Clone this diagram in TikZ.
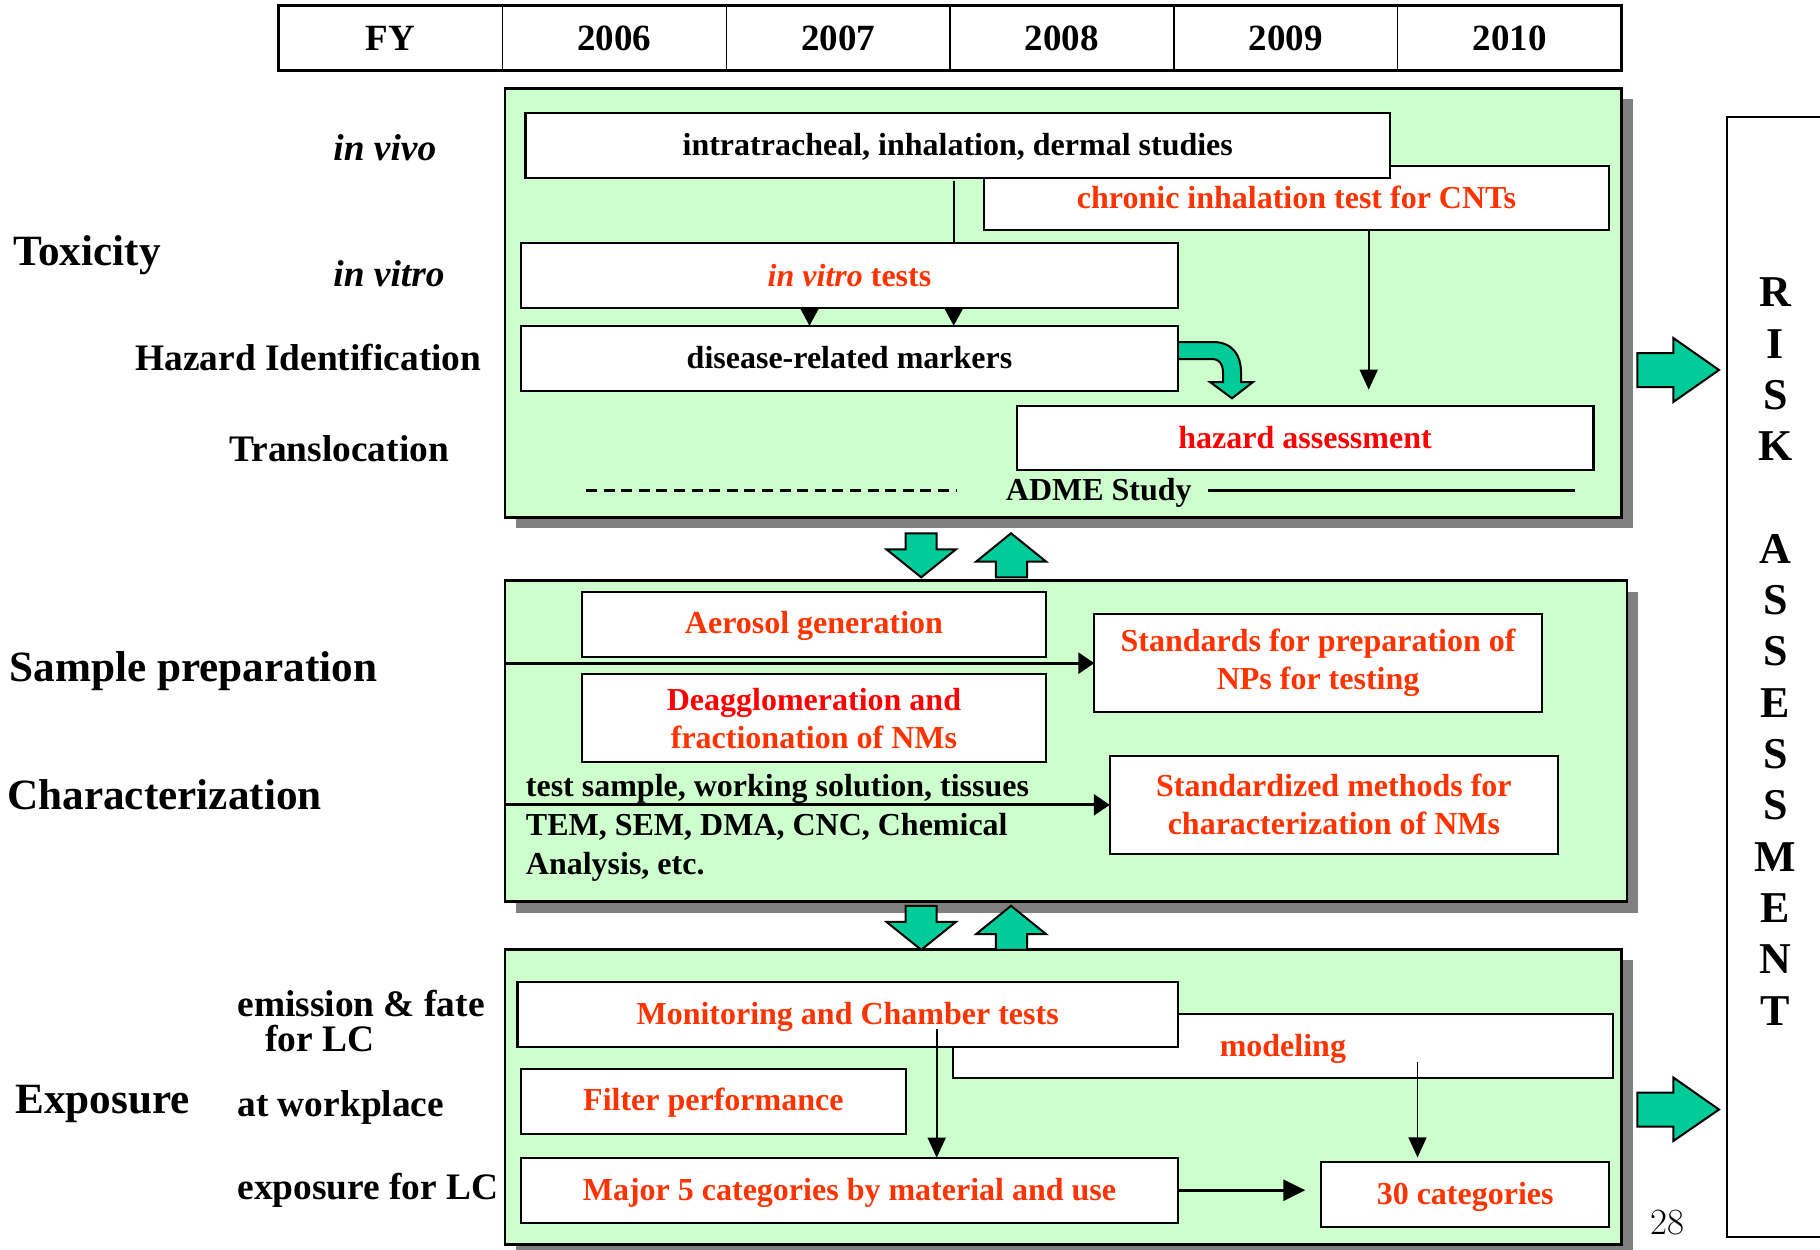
\documentclass[tikz,border=0pt]{standalone}
\usepackage{fontspec}
\newfontfamily\tnr{Liberation Serif}
\usetikzlibrary{arrows.meta,calc}
\definecolor{lgreen}{RGB}{204,255,204}
\definecolor{agreen}{RGB}{0,204,153}
\definecolor{shad}{RGB}{128,128,128}
\definecolor{ored}{RGB}{255,51,0}
\definecolor{pred}{RGB}{255,0,0}
\newcommand\mybox[7][]{\node[wbox,#1,minimum width={(#5-#3)*0.5pt},minimum height={(#6-#4)*0.5pt}] (#2) at ({(#3+#5)/2},{(#4+#6)/2}) {#7};}
\newcommand\gbx[5]{\fill[shad] ({#2+11},{#3+11}) rectangle ({#4+11},{#5+11});
  \node[gbox,minimum width={(#4-#2)*0.5pt},minimum height={(#5-#3)*0.5pt}] (#1) at ({(#2+#4)/2},{(#3+#5)/2}) {};}
\begin{document}
\begin{tikzpicture}[x=0.5pt,y=-0.5pt,
  wbox/.style={draw=black, fill=white, line width=1.1pt, inner sep=0pt, outer sep=0pt, font=\tnr\bfseries\fontsize{16}{19}\selectfont, text=ored, align=center},
  one/.style={text height=13pt, text depth=2.4pt},
  gbox/.style={draw=black, fill=lgreen, line width=1.3pt, inner sep=0pt, outer sep=0pt},
  cell/.style={draw=black, line width=0.7pt, inner sep=0pt, outer sep=0pt, font=\tnr\bfseries\fontsize{18.5}{20}\selectfont, minimum width=111.9pt, minimum height=32.5pt, text height=13pt, text depth=0pt},
  biglab/.style={font=\tnr\bfseries\fontsize{21.6}{24}\selectfont, inner sep=0pt, anchor=base west},
  midlab/.style={font=\tnr\bfseries\fontsize{18.7}{21}\selectfont, inner sep=0pt, anchor=base west},
  plain/.style={font=\tnr\bfseries\fontsize{16}{18.5}\selectfont, inner sep=0pt, anchor=base west},
  thinarr/.style={line width=0.8pt, -{Triangle[length=10pt,width=9pt]}},
  smallarr/.style={line width=0.8pt, -{Triangle[length=8.5pt,width=9pt]}},
  thickarr/.style={line width=1.4pt, -{Triangle[length=8pt,width=10.5pt]}},
  longarr/.style={line width=1.4pt, -{Triangle[length=11pt,width=10.5pt]}},
  blockarr/.style={draw=black, fill=agreen, line width=1pt, line join=miter},
  letter/.style={font=\tnr\bfseries\fontsize{22}{24}\selectfont, inner sep=0pt}
]
\useasboundingbox (0,0) rectangle (1820,1249);
\fill[white] (0,0) rectangle (1820,1249);

% year table
\foreach \t [count=\i from 0] in {FY,2006,2007,2008,2009,2010}
  \node[cell] (yr\i) at ({278.6+111.9+\i*223.8},37.5) {\t};
\draw[line width=1.5pt] (yr0.north west) rectangle (yr5.south east);

% green panels with shadows
\gbx{tox}{504.8}{88.3}{1621.7}{517.3}
\gbx{samp}{504.8}{580.7}{1626.8}{901.7}
\gbx{expo}{504.8}{949.3}{1621.7}{1244.3}

% ---- toxicity panel
\mybox[one]{ch}{984}{165.7}{1609}{230}{chronic inhalation test for CNTs}
\mybox[one,text=black]{in1}{525.5}{112.7}{1390}{177.7}{intratracheal, inhalation, dermal studies}
\mybox[one]{iv}{521}{243.3}{1178}{308.3}{\textit{in vitro} tests}
\draw[blockarr] (1170,342) -- (1213,342) .. controls (1233,342) and (1241,356) .. (1241,372) -- (1241,382)
  -- (1253,382) -- (1232,398.3) -- (1210,382) -- (1223,382) -- (1223,373)
  .. controls (1223,364) and (1219,359) .. (1213,359) -- (1170,359) -- cycle;
\mybox[one,text=black]{dr}{521}{325.7}{1178}{390.7}{disease-related markers}
\mybox[one,text=pred]{ha}{1016.6}{405.7}{1593.5}{470}{hazard assessment}

\coordinate (xa) at (809.5,0);
\coordinate (xb) at (953.7,0);
\coordinate (xc) at (1368.7,0);
\draw[line width=0.8pt] ([yshift=-1.5pt]in1.south -| xb) -- (iv.north -| xb);
\draw[smallarr] (iv.south -| xa) -- (dr.north -| xa);
\draw[smallarr] (iv.south -| xb) -- (dr.north -| xb);
\draw[thinarr, shorten >=8pt] (ch.south -| xc) -- (ha.north -| xc);

\coordinate (ad1) at (586,490);
\coordinate (ad2) at (956,490);
\coordinate (ad3) at (1207.5,490);
\coordinate (ad4) at (1575,490);
\draw[line width=1.5pt, dash pattern=on 5.5pt off 3.3pt] (ad1) -- (ad2);
\node[plain] (adme) at (1005.5,500.5) {ADME Study};
\draw[line width=1.5pt] (ad3) -- (ad4);

% ---- sample panel
\mybox[one,text depth=4.5pt]{ae}{581.7}{592.3}{1046.2}{657.3}{Aerosol generation}
\mybox{st}{1094.3}{614}{1541.8}{712.3}{Standards for preparation of\\NPs for testing}
\mybox{de}{581.7}{674}{1046.2}{762.3}{\textcolor{pred}{Deagglomeration and}\\fractionation of NMs}
\mybox{sm}{1109.8}{755.7}{1558}{854}{Standardized methods for\\characterization of NMs}
\draw[thickarr] (samp.west |- st.west) -- (st.west);
\draw[thickarr] (samp.west |- sm.west) -- (sm.west);
\node[plain] (ts) at (525.5,796.7) {test sample, working solution, tissues};
\node[plain] (tem) at (525.5,835.5) {TEM, SEM, DMA, CNC, Chemical};
\node[plain] (ana) at (525.5,874) {Analysis, etc.};

% ---- exposure panel
\mybox[one]{md}{953}{1013.7}{1612.8}{1078.3}{modeling}
\mybox[one]{mo}{517.4}{981.7}{1177.9}{1046.7}{Monitoring and Chamber tests}
\mybox[one,text depth=4.5pt]{fp}{521}{1069.3}{905.7}{1134.3}{Filter performance}
\mybox[one]{mj}{521}{1157.7}{1177.9}{1222.7}{Major 5 categories by material and use}
\mybox[one]{tc}{1321.3}{1162}{1609}{1226.7}{30 categories}
\coordinate (mos) at (936.7,1029.3);
\coordinate (mds) at (1417.5,1061.7);
\draw[thinarr] (mos) -- (mos |- mj.north);
\draw[thinarr, shorten >=2.3pt] (mds) -- (mds |- tc.north);
\draw[longarr, shorten >=8pt] (mj.east) -- (mj.east -| tc.west);

% ---- green block arrows between panels
\foreach \s in {0,372.5}{
  \begin{scope}[yshift=-\s*0.5pt]
  \draw[blockarr] (905.7,533.3) -- (936.7,533.3) -- (936.7,549.3) -- (956,549.3) -- (921.2,577.3) -- (886.4,549.3) -- (905.7,549.3) -- cycle;
  \draw[blockarr] (1011,533.3) -- (1046.2,561.7) -- (1027,561.7) -- (1027,577.3) -- (995.9,577.3) -- (995.9,561.7) -- (976,561.7) -- cycle;
  \end{scope}}

% ---- arrows to risk assessment
\draw[blockarr] (1637.3,353) -- (1673.3,353) -- (1673.3,338) -- (1719,370) -- (1673.3,402) -- (1673.3,387) -- (1637.3,387) -- cycle;
\draw[blockarr] (1637.3,1092.5) -- (1673.3,1092.5) -- (1673.3,1077.5) -- (1719,1109.5) -- (1673.3,1141) -- (1673.3,1126.5) -- (1637.3,1126.5) -- cycle;

% ---- risk assessment box
\draw[line width=0.9pt] (1821,117) -- (1727,117) -- (1727,1237) -- (1821,1237);
\foreach \l/\i in {R/0,I/1,S/2,K/3,A/5,S/6,S/7,E/8,S/9,S/10,M/11,E/12,N/13,T/14}
  \node[letter] (ra\i) at (1775.5,{292.5+\i*51.3}) {\l};
\node[font=\fontsize{18.5}{20}\selectfont, inner sep=0pt] (pg) at (1667,1223) {28};

% ---- left labels
\node[midlab] (lvivo) at (333,160) {\itshape in vivo};
\node[biglab] (ltox) at (13,265) {Toxicity};
\node[midlab] (lvitro) at (333,286.7) {\itshape in vitro};
\node[midlab] (lhaz) at (135,370.7) {Hazard Identification};
\node[midlab] (ltrans) at (229,461.7) {Translocation};
\node[biglab] (lsamp) at (9,681.7) {Sample preparation};
\node[biglab] (lchar) at (7,809.3) {Characterization};
\node[midlab] (lemi) at (237,1016.7) {emission \& fate};
\node[midlab] (llc) at (265,1051.7) {for LC};
\node[biglab] (lexp) at (15,1113.3) {Exposure};
\node[midlab] (lwork) at (237,1116.7) {at workplace};
\node[midlab] (lexlc) at (237,1199.3) {exposure for LC};
\end{tikzpicture}
\end{document}
